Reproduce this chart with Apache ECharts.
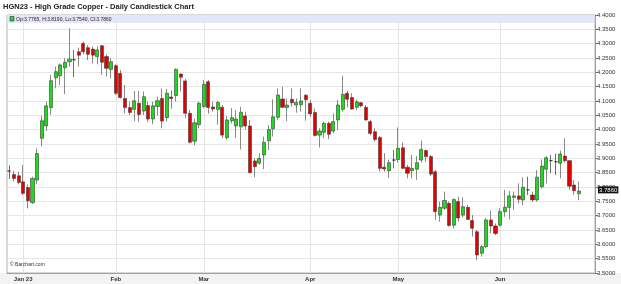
<!DOCTYPE html>
<html>
<head>
<meta charset="utf-8">
<script src="https://cdn.jsdelivr.net/npm/echarts@6/dist/echarts.min.js"></script>
<style>html,body{margin:0;padding:0;background:#fff;}#c{width:621px;height:284px;}</style>
</head>
<body>
<div id="c"></div>
<script>
const chartTitle = 'HGN23 - High Grade Copper - Daily Candlestick Chart';
const dates = [
'2022-12-28','2022-12-29','2022-12-30',
'2023-01-03','2023-01-04','2023-01-05','2023-01-06','2023-01-09','2023-01-10','2023-01-11','2023-01-12','2023-01-13','2023-01-17','2023-01-18','2023-01-19','2023-01-20','2023-01-23','2023-01-24','2023-01-25','2023-01-26','2023-01-27','2023-01-30','2023-01-31',
'2023-02-01','2023-02-02','2023-02-03','2023-02-06','2023-02-07','2023-02-08','2023-02-09','2023-02-10','2023-02-13','2023-02-14','2023-02-15','2023-02-16','2023-02-17','2023-02-21','2023-02-22','2023-02-23','2023-02-24','2023-02-27','2023-02-28',
'2023-03-01','2023-03-02','2023-03-03','2023-03-06','2023-03-07','2023-03-08','2023-03-09','2023-03-10','2023-03-13','2023-03-14','2023-03-15','2023-03-16','2023-03-17','2023-03-20','2023-03-21','2023-03-22','2023-03-23','2023-03-24','2023-03-27','2023-03-28','2023-03-29','2023-03-30','2023-03-31',
'2023-04-03','2023-04-04','2023-04-05','2023-04-06','2023-04-10','2023-04-11','2023-04-12','2023-04-13','2023-04-14','2023-04-17','2023-04-18','2023-04-19','2023-04-20','2023-04-21','2023-04-24','2023-04-25','2023-04-26','2023-04-27','2023-04-28',
'2023-05-01','2023-05-02','2023-05-03','2023-05-04','2023-05-05','2023-05-08','2023-05-09','2023-05-10','2023-05-11','2023-05-12','2023-05-15','2023-05-16','2023-05-17','2023-05-18','2023-05-19','2023-05-22','2023-05-23','2023-05-24','2023-05-25','2023-05-26','2023-05-30','2023-05-31',
'2023-06-01','2023-06-02','2023-06-05','2023-06-06','2023-06-07','2023-06-08','2023-06-09','2023-06-12','2023-06-13','2023-06-14','2023-06-15','2023-06-16','2023-06-20','2023-06-21','2023-06-22','2023-06-23','2023-06-26','2023-06-27',
'2023-06-28','2023-06-29','2023-06-30'
];
const opens = [
3.856,3.844,3.839,3.818,3.798,3.746,3.824,3.970,4.013,4.077,
4.181,4.188,4.216,4.237,4.244,4.272,4.301,4.286,4.281,4.255,
4.293,4.255,4.210,4.223,4.196,4.109,4.077,4.071,4.092,4.065,
4.084,4.037,4.081,4.109,4.042,4.114,4.119,4.194,4.170,4.057,
3.960,4.017,4.081,4.167,4.079,4.071,4.078,3.972,4.031,4.013,
4.010,4.048,4.013,3.891,3.883,3.912,3.961,4.003,4.043,4.107,
4.077,4.106,4.086,4.087,4.120,4.092,4.060,3.981,3.991,4.022,
3.995,4.034,4.071,4.127,4.112,4.078,4.094,4.078,4.028,3.993,
3.973,3.869,3.857,3.894,3.896,3.937,3.869,3.857,3.862,3.894,
3.927,3.906,3.853,3.702,3.726,3.743,3.667,3.749,3.702,3.729,
3.683,3.644,3.569,3.592,3.685,3.664,3.667,3.714,3.729,3.764,
3.769,3.755,3.790,3.772,3.755,3.801,3.862,3.892,3.888,3.883,
3.908,3.892,3.807,3.7765
];
const closes = [
3.856,3.830,3.816,3.778,3.752,3.830,3.917,4.031,4.083,4.171,
4.202,4.226,4.235,4.246,4.244,4.260,4.272,4.263,4.260,4.278,
4.235,4.214,4.237,4.127,4.112,4.077,4.060,4.101,4.053,4.115,
4.037,4.083,4.101,4.030,4.127,4.109,4.210,4.183,4.057,3.956,
4.024,4.092,4.158,4.077,4.072,4.095,3.981,4.034,4.042,4.037,
4.061,4.013,3.850,3.871,3.900,3.956,4.001,4.045,4.121,4.078,
4.086,4.094,4.095,4.100,4.104,4.055,3.980,3.995,4.022,3.984,
4.028,4.086,4.123,4.106,4.072,4.097,4.083,4.034,3.987,3.966,
3.865,3.863,3.885,3.894,3.935,3.865,3.848,3.865,3.885,3.931,
3.906,3.845,3.714,3.729,3.753,3.666,3.756,3.692,3.731,3.687,
3.656,3.563,3.592,3.685,3.664,3.638,3.714,3.729,3.769,3.769,
3.757,3.799,3.790,3.755,3.834,3.873,3.902,3.892,3.888,3.915,
3.892,3.803,3.787,3.786
];
const lows = [
3.828,3.819,3.809,3.772,3.725,3.741,3.809,3.941,3.995,4.051,
4.144,4.156,4.124,4.220,4.183,4.220,4.263,4.243,4.231,4.228,
4.191,4.185,4.179,4.121,4.109,4.057,4.051,4.030,4.028,4.051,
4.028,4.019,4.049,4.005,4.028,4.073,4.098,4.133,4.040,3.952,
3.945,4.005,4.075,4.056,4.063,4.017,3.970,3.965,4.022,3.970,
3.931,4.001,3.848,3.834,3.877,3.862,3.929,3.976,4.034,4.075,
4.030,4.080,4.059,4.063,4.031,4.045,3.976,3.938,3.970,3.967,
3.987,3.999,4.063,4.078,4.069,4.068,4.078,4.031,3.981,3.959,
3.854,3.854,3.831,3.865,3.885,3.862,3.830,3.830,3.825,3.885,
3.888,3.838,3.685,3.679,3.720,3.662,3.656,3.679,3.694,3.685,
3.627,3.545,3.557,3.586,3.638,3.632,3.662,3.696,3.687,3.720,
3.743,3.737,3.772,3.749,3.749,3.795,3.813,3.848,3.842,3.830,
3.885,3.790,3.772,3.754
];
const highs = [
3.876,3.856,3.853,3.877,3.809,3.836,3.935,4.049,4.098,4.191,
4.220,4.231,4.249,4.353,4.278,4.286,4.307,4.295,4.290,4.290,
4.295,4.263,4.249,4.228,4.208,4.156,4.098,4.135,4.135,4.133,
4.098,4.098,4.115,4.144,4.142,4.138,4.214,4.196,4.177,4.069,
4.038,4.098,4.173,4.173,4.098,4.100,4.086,4.048,4.075,4.069,
4.080,4.063,4.034,3.900,3.918,3.976,4.016,4.106,4.144,4.150,
4.109,4.144,4.109,4.144,4.124,4.104,4.074,4.005,4.028,4.028,
4.057,4.103,4.188,4.136,4.127,4.105,4.097,4.086,4.034,4.005,
3.978,3.918,3.895,3.929,4.008,3.955,3.877,3.912,3.908,3.962,
3.931,3.912,3.859,3.749,3.784,3.749,3.760,3.766,3.764,3.737,
3.702,3.650,3.598,3.691,3.717,3.673,3.726,3.790,3.787,3.784,
3.813,3.834,3.836,3.784,3.859,3.896,3.908,3.912,3.917,3.927,
3.970,3.894,3.824,3.819
];
const monthStarts = ['2023-01-03','2023-02-01','2023-03-01','2023-04-03','2023-05-01','2023-06-01'];
const monthLabels = ['Jan 23','Feb','Mar','Apr','May','Jun'];
const yMin = 3.5, yMax = 4.4, yStep = 0.05;

const FONT = 'Liberation Sans';
const last = opens.length - 1;
const legendText = 'Op:' + opens[last].toFixed(4) + ', H:' + highs[last].toFixed(4) +
  ', Lo:' + lows[last].toFixed(4) + ', Cl:' + closes[last].toFixed(4);
const candles = opens.map((o, i) => [o, closes[i], lows[i], highs[i]]);
const isMonthStart = (idx, val) => monthStarts.indexOf(val) >= 0;

const chart = echarts.init(document.getElementById('c'), null, {renderer: 'canvas'});
chart.setOption({
  animation: false,
  backgroundColor: '#ffffff',
  textStyle: {fontFamily: FONT},
  title: {
    text: chartTitle, left: 3, top: 3, padding: 0,
    textStyle: {fontSize: 7.5, fontWeight: 'bold', color: '#222', fontFamily: FONT}
  },
  grid: {left: 7, right: 26, top: 15, bottom: 11, show: true, borderColor: '#b0b0b0', borderWidth: 1, containLabel: false},
  xAxis: {
    type: 'category', data: dates, boundaryGap: true,
    axisLine: {show: true, lineStyle: {color: '#a0a0a0'}},
    axisTick: {show: false},
    axisLabel: {
      interval: isMonthStart, margin: 3, fontSize: 6, fontWeight: 'bold', color: '#333',
      formatter: (v) => monthLabels[monthStarts.indexOf(v)] || ''
    },
    splitLine: {show: true, interval: isMonthStart, alignWithLabel: true, lineStyle: {color: '#e4e4e4', width: 1}}
  },
  yAxis: {
    type: 'value', position: 'right', min: yMin, max: yMax, interval: yStep, scale: true,
    axisLine: {show: true, lineStyle: {color: '#a0a0a0'}},
    axisTick: {show: true, length: 3, lineStyle: {color: '#777'}},
    axisLabel: {fontSize: 6, color: '#333', margin: 2, formatter: (v) => v.toFixed(4)},
    splitLine: {show: true, lineStyle: {color: '#e6e6e6', width: 1}}
  },
  graphic: [
    {type: 'rect', z: -1, silent: true, shape: {x: 0, y: 273, width: 621, height: 11}, style: {fill: '#f3f3f3'}},
    {type: 'rect', z: 5, silent: true, shape: {x: 7.5, y: 15.5, width: 587, height: 7.5}, style: {fill: '#e6e6fa'}},
    {type: 'rect', z: 6, silent: true, shape: {x: 10, y: 16.5, width: 4, height: 4.5}, style: {fill: '#22dd22', stroke: '#333', lineWidth: 0.6}},
    {type: 'text', z: 6, silent: true, x: 16, y: 19.3, style: {text: legendText, fontSize: 5, fill: '#222', fontFamily: FONT, verticalAlign: 'middle'}},
    {type: 'text', z: 6, silent: true, x: 10, y: 265, style: {text: '\u00A9 Barchart.com', fontSize: 5, fill: '#333', fontFamily: FONT, verticalAlign: 'middle'}}
  ],
  series: [{
    type: 'candlestick',
    data: candles,
    barWidth: 3.6,
    itemStyle: {
      color: '#19dd19', color0: '#e20000',
      borderColor: '#3a3a3a', borderColor0: '#3a3a3a', borderColorDoji: '#111', borderWidth: 0.6
    },
    markLine: {
      silent: true, symbol: 'none', animation: false,
      lineStyle: {color: 'rgba(0,0,0,0)', width: 0},
      label: {
        show: true, position: 'end', distance: 3,
        formatter: () => closes[last].toFixed(4),
        backgroundColor: '#111', color: '#fff', fontSize: 6, padding: [1, 1, 0, 1]
      },
      emphasis: {disabled: true},
      data: [{yAxis: closes[last]}]
    }
  }]
});
</script>
</body>
</html>
